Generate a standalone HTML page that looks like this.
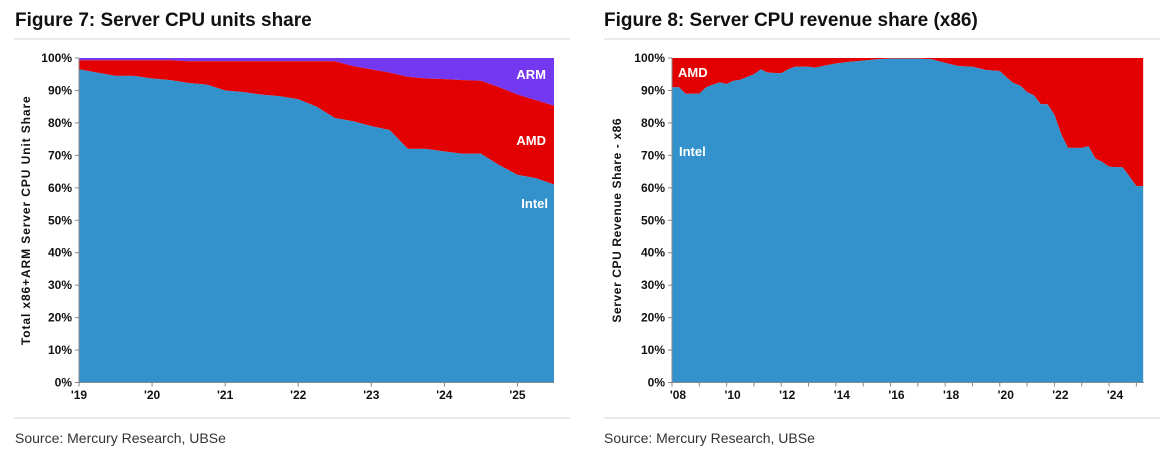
<!DOCTYPE html>
<html><head><meta charset="utf-8">
<style>
body{margin:0;background:#fff;width:1167px;height:450px;overflow:hidden;font-family:"Liberation Sans",sans-serif;}
svg{display:block}
text{font-family:"Liberation Sans",sans-serif;}
</style></head>
<body>
<svg id="svg" width="1167" height="450">
  <text x="15" y="26" font-size="19" font-weight="bold" fill="#111">Figure 7: Server CPU units share</text>
  <text x="604" y="26" font-size="19" font-weight="bold" fill="#111">Figure 8: Server CPU revenue share (x86)</text>
  <line x1="14" y1="39" x2="570" y2="39" stroke="#e4e4e4" stroke-width="1.5"/>
  <line x1="604" y1="39" x2="1160" y2="39" stroke="#e4e4e4" stroke-width="1.5"/>
  <line x1="14" y1="418" x2="570" y2="418" stroke="#e4e4e4" stroke-width="1.5"/>
  <line x1="604" y1="418" x2="1160" y2="418" stroke="#e4e4e4" stroke-width="1.5"/>
  <text x="15" y="443" font-size="14" fill="#333">Source: Mercury Research, UBSe</text>
  <text x="604" y="443" font-size="14" fill="#333">Source: Mercury Research, UBSe</text>
  <g id="c1"></g>
  <g id="c2"></g>
</svg>
<script>
// Chart 1 data (quarterly 2019Q1..2025Q3)
const unitsYearStart = 2019;
const unitsIntel = [96.5,95.5,94.5,94.5,93.7,93.2,92.3,91.8,90,89.5,88.7,88.2,87.3,85,81.5,80.5,79,77.8,72,72,71.2,70.5,70.5,67,64,63,61];
const unitsIntelAmd = [99.3,99.3,99.3,99.3,99.3,99.3,99,99,99,99,99,99,99,99,99,97.5,96.5,95.5,94.2,93.7,93.5,93.2,93,91,88.7,87,85.3];
const unitsXTicks = ["'19","'20","'21","'22","'23","'24","'25"];
// Chart 2 data
const revYears = [2008,2008.25,2008.5,2009,2009.25,2009.5,2009.75,2010,2010.25,2010.5,2011,2011.25,2011.5,2012,2012.25,2012.5,2013,2013.25,2013.5,2014,2014.5,2015,2015.5,2016,2016.5,2017,2017.5,2018,2018.5,2019,2019.5,2020,2020.25,2020.5,2020.75,2021,2021.25,2021.5,2021.75,2022,2022.25,2022.5,2022.75,2023,2023.25,2023.5,2023.75,2024,2024.5,2024.75,2025,2025.25];
const revIntel = [91,91,89,89,91,91.8,92.5,92,93,93.3,95,96.5,95.5,95.3,96.5,97.3,97.3,97,97.5,98.3,98.8,99.2,99.6,99.8,99.8,99.8,99.6,98.5,97.5,97.3,96.3,96,94,92.3,91.5,89.5,88.5,85.8,85.7,82.5,76.5,72.3,72.3,72.3,72.8,69,68,66.5,66.3,63.5,60.5,60.5];
const revXTicks = ["'08","'10","'12","'14","'16","'18","'20","'22","'24"];
const yTicks = [0,10,20,30,40,50,60,70,80,90,100];

const NS="http://www.w3.org/2000/svg";
function mk(parent,tag,attrs){const e=document.createElementNS(NS,tag);for(const k in attrs)e.setAttribute(k,attrs[k]);parent.appendChild(e);return e;}
const BLUE="#3391cb",RED="#e30000",PURPLE="#7338f0";
const Y0=382.5,Y1=58;
const yS=v=>Y0-(v/100)*(Y0-Y1);

function axes(g,xL,xR,yLabel,labelX,ls){
  yTicks.forEach(t=>{
    const tx=mk(g,'text',{x:xL-7,y:yS(t)+4,'font-size':12,'font-weight':'bold','text-anchor':'end',fill:'#111'});
    tx.textContent=t+'%';
    
    
    const l=mk(g,'line',{x1:xL-4,x2:xL,y1:yS(t),y2:yS(t),stroke:'#888'});
    
    
  });
  const yl=mk(g,'text',{transform:`translate(${labelX},${(Y0+Y1)/2}) rotate(-90)`,'font-size':12,'font-weight':'bold','text-anchor':'middle',fill:'#111','letter-spacing':ls});
  yl.textContent=yLabel;
  
  
  const ax=mk(g,'line',{x1:xL,x2:xR,y1:Y0,y2:Y0,stroke:'#888'});
  
  
  const ay=mk(g,'line',{x1:xL,x2:xL,y1:Y1,y2:Y0,stroke:'#888'});
  
  
}
function area(g,xs,top,bot,color,name){
  let d='M'+xs.map((x,i)=>x+','+yS(top[i])).join('L');
  for(let i=xs.length-1;i>=0;i--)d+='L'+xs[i]+','+yS(bot[i]);
  const p=mk(g,'path',{d:d+'Z',fill:color});
  
  
}
function label(g,x,y,t,name,anchor){
  const e=mk(g,'text',{x:x,y:y,'font-size':13,'font-weight':'bold',fill:'#fff','text-anchor':anchor||'end'});
  e.textContent=t;
  
  
}

// Chart 1
(function(){
  const g=document.getElementById('c1');
  const xL=79,xR=554,yrs=6.5;
  const xS=yv=>xL+(yv-unitsYearStart)/yrs*(xR-xL);
  const xs=unitsIntel.map((_,i)=>xS(unitsYearStart+i/4));
  const zeros=unitsIntel.map(()=>0), hund=unitsIntel.map(()=>100);
  area(g,xs,hund,unitsIntelAmd,PURPLE,'arm-area');
  area(g,xs,unitsIntelAmd,unitsIntel,RED,'amd-area');
  area(g,xs,unitsIntel,zeros,BLUE,'intel-area');
  axes(g,xL,xR,'Total x86+ARM Server CPU Unit Share',30,'0.9');
  unitsXTicks.forEach((t,i)=>{
    const x=xS(unitsYearStart+i);
    const l=mk(g,'line',{x1:x,x2:x,y1:Y0,y2:Y0+4,stroke:'#888'});
    
    
    const tx=mk(g,'text',{x:x,y:399,'font-size':12,'font-weight':'bold','text-anchor':'middle',fill:'#111'});
    tx.textContent=t;
    
    
  });
  label(g,546,79,'ARM','arm-label');
  label(g,546,145,'AMD','amd-label');
  label(g,548,208,'Intel','intel-label');
})();

// Chart 2
(function(){
  const g=document.getElementById('c2');
  const xL=672,xR=1144,y0=2008,y1=2025.28;
  const xS=yv=>xL+(yv-y0)/(y1-y0)*(xR-xL);
  const xs=revYears.map(xS);
  const zeros=revIntel.map(()=>0), hund=revIntel.map(()=>100);
  area(g,xs,hund,revIntel,RED,'amd-area');
  area(g,xs,revIntel,zeros,BLUE,'intel-area');
  axes(g,xL,xR,'Server CPU Revenue  Share - x86',621,'0.6');
  for(let yv=2008;yv<=2025;yv++){
    const x=xS(yv);
    const l=mk(g,'line',{x1:x,x2:x,y1:Y0,y2:Y0+4,stroke:'#888'});
    
    
  }
  revXTicks.forEach((t,i)=>{
    const x=xS(2008+2*i);
    const tx=mk(g,'text',{x:x+6,y:399,'font-size':12,'font-weight':'bold','text-anchor':'middle',fill:'#111'});
    tx.textContent=t;
    
    
  });
  label(g,678,77,'AMD','amd-label','start');
  label(g,679,156,'Intel','intel-label','start');
})();
</script>
</body></html>
